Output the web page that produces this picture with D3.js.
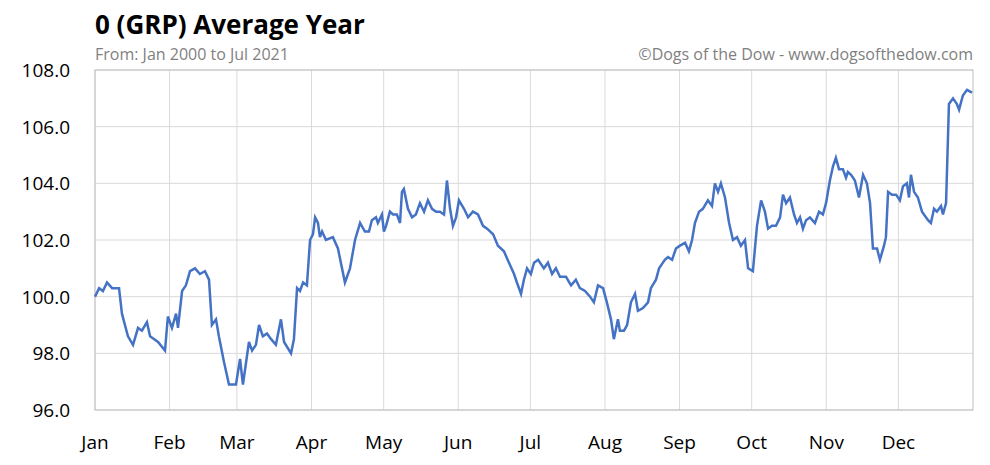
<!DOCTYPE html>
<html><head><meta charset="utf-8">
<script src="https://cdn.jsdelivr.net/npm/d3@7"></script>
<style>body{margin:0;background:#fff;font-family:"Open Sans","Noto Sans",sans-serif}</style>
</head><body><svg id="chart" width="990" height="465"></svg>
<script>
// day of year and average value
const days = [0,1.7,3.3,5.0,7.1,10.0,11.2,13.7,15.8,17.9,19.5,21.6,22.9,26.2,29.1,30.3,32.0,33.7,34.5,36.2,37.8,39.5,41.6,43.6,45.7,47.4,48.6,50.3,51.5,53.6,55.7,58.6,60.3,61.5,64.0,65.3,66.9,68.2,69.8,71.5,73.2,75.2,77.3,78.6,81.5,82.7,84.0,85.2,86.5,88.1,89.4,90.6,91.5,92.7,93.5,94.4,96.0,98.9,101.0,103.9,106.0,108.1,110.2,112.2,113.9,115.1,116.8,117.6,119.3,120.1,121.0,122.6,123.9,125.5,126.8,127.6,128.4,130.1,131.8,133.4,135.1,136.8,138.4,140.1,141.8,143.4,145.1,146.3,147.6,148.8,150.1,151.3,153.4,155.1,157.1,159.2,161.3,163.0,165.5,167.5,170.0,172.1,174.2,175.4,177.1,178.3,179.6,181.2,182.5,184.2,186.6,188.3,190.0,191.6,193.3,195.8,197.9,199.9,201.6,203.7,205.8,207.4,209.1,211.2,212.8,214.5,215.7,217.4,218.2,219.9,221.2,222.8,224.5,225.7,227.8,229.9,231.1,233.2,234.5,236.1,236.9,238.2,239.9,241.5,243.2,245.3,246.9,248.2,249.4,251.1,252.7,254.8,256.5,257.7,259.0,260.2,261.9,263.6,265.2,266.9,268.5,270.2,271.5,273.5,275.2,276.9,278.5,279.8,281.4,283.1,284.8,286.0,287.3,288.9,290.6,291.8,293.1,294.3,295.6,297.2,299.3,301.0,302.6,303.9,305.5,306.8,308.0,309.3,310.9,312.2,313.0,314.3,315.9,317.6,319.3,320.9,322.2,323.4,325.1,326.3,328.0,328.8,329.7,331.3,333.0,334.6,335.9,337.5,338.4,339.2,340.5,342.1,343.8,346.3,347.5,348.8,350.0,351.7,352.5,353.8,355.0,356.7,358.3,359.2,360.8,362.5,364.6];
const values = [100.0,100.3,100.2,100.5,100.3,100.3,99.4,98.6,98.3,98.9,98.8,99.1,98.6,98.4,98.1,99.3,98.9,99.4,98.9,100.2,100.4,100.9,101.0,100.8,100.9,100.6,99.0,99.2,98.6,97.7,96.9,96.9,97.8,96.9,98.4,98.1,98.3,99.0,98.6,98.7,98.5,98.3,99.2,98.4,98.0,98.5,100.3,100.2,100.5,100.4,102.0,102.2,102.8,102.6,102.1,102.3,102.0,102.1,101.7,100.5,101.0,102.0,102.6,102.3,102.3,102.7,102.8,102.6,102.9,102.3,102.5,103.0,102.9,102.9,102.6,103.7,103.8,103.1,102.8,102.9,103.3,103.0,103.4,103.1,103.0,103.0,102.9,104.1,103.1,102.5,102.8,103.4,103.1,102.8,103.0,102.9,102.5,102.4,102.2,101.8,101.6,101.2,100.8,100.5,100.1,100.6,101.0,100.8,101.2,101.3,101.0,101.2,100.8,101.0,100.7,100.7,100.4,100.6,100.3,100.2,100.0,99.8,100.4,100.3,99.8,99.2,98.5,99.2,98.8,98.8,99.0,99.8,100.1,99.5,99.6,99.8,100.3,100.6,101.0,101.2,101.3,101.4,101.3,101.7,101.8,101.9,101.6,102.0,102.6,103.0,103.1,103.4,103.2,104.0,103.7,104.0,103.5,102.6,102.0,102.1,101.8,102.0,101.0,100.9,102.5,103.4,103.0,102.4,102.5,102.5,102.8,103.6,103.3,103.5,102.9,102.6,102.8,102.4,102.7,102.8,102.6,103.0,102.9,103.3,104.1,104.6,104.9,104.5,104.5,104.2,104.4,104.3,104.1,103.5,104.3,104.0,103.3,101.7,101.7,101.3,101.8,102.1,103.7,103.6,103.6,103.4,103.9,104.0,103.5,104.3,103.7,103.5,103.0,102.7,102.6,103.1,103.0,103.2,102.9,103.3,106.8,107.0,106.8,106.6,107.1,107.3,107.2];
const monthNames = ["Jan","Feb","Mar","Apr","May","Jun","Jul","Aug","Sep","Oct","Nov","Dec"];
const monthStarts = [0,31,59,90,120,151,181,212,243,273,304,334];
const yTicks = [96,98,100,102,104,106,108];

const svg = d3.select('#chart');
const plotLeft = 95, plotRight = 973, plotTop = 70, plotBottom = 410;
const x = d3.scaleLinear().domain([0, 365]).range([plotLeft, plotRight]);
const y = d3.scaleLinear().domain([96, 108]).range([plotBottom, plotTop]);

// grid
svg.selectAll('.hg').data(yTicks).join('line')
  .attr('x1', plotLeft).attr('x2', plotRight)
  .attr('y1', d => y(d)).attr('y2', d => y(d))
  .attr('stroke', '#d9d9d9');
svg.selectAll('.vg').data(monthStarts).join('line')
  .attr('x1', d => x(d)).attr('x2', d => x(d))
  .attr('y1', plotTop).attr('y2', plotBottom)
  .attr('stroke', '#d9d9d9');
svg.append('rect').attr('x', plotLeft).attr('y', plotTop)
  .attr('width', plotRight - plotLeft).attr('height', plotBottom - plotTop)
  .attr('fill', 'none').attr('stroke', '#bfbfbf');

// axis labels
svg.selectAll('.yl').data(yTicks).join('text')
  .attr('x', 70).attr('y', d => y(d) + 7)
  .attr('text-anchor', 'end').attr('font-size', 19).attr('fill', '#000')
  .text(d => d.toFixed(1));
svg.selectAll('.xl').data(monthStarts).join('text')
  .attr('x', d => x(d)).attr('y', 449)
  .attr('text-anchor', 'middle').attr('font-size', 19).attr('fill', '#000')
  .text((d, i) => monthNames[i]);

// line
const line = d3.line().x((d, i) => x(days[i])).y(d => y(d));
svg.append('path').datum(values)
  .attr('d', line).attr('fill', 'none')
  .attr('stroke', '#4472c4').attr('stroke-width', 2.5);

// titles
svg.append('text').attr('x', 95).attr('y', 34)
  .attr('font-size', 26).attr('font-weight', 'bold').text('0 (GRP) Average Year');
svg.append('text').attr('x', 95).attr('y', 60)
  .attr('font-size', 16).attr('fill', '#7f7f7f').text('From: Jan 2000 to Jul 2021');
svg.append('text').attr('x', 973).attr('y', 60).attr('text-anchor', 'end')
  .attr('font-size', 16).attr('fill', '#7f7f7f').text('©Dogs of the Dow - www.dogsofthedow.com');
</script></body></html>
